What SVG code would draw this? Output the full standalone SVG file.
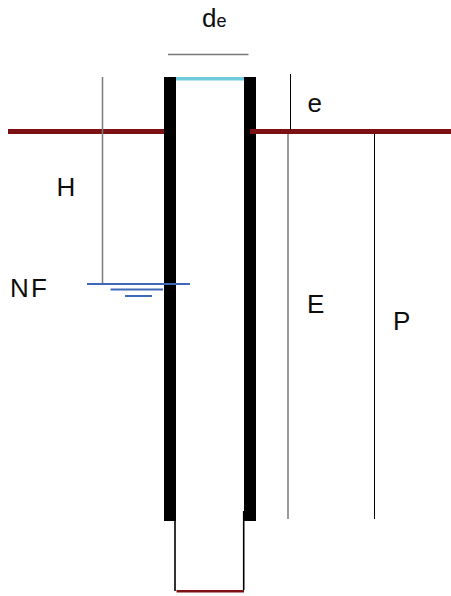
<svg xmlns="http://www.w3.org/2000/svg" width="451" height="596" viewBox="0 0 451 596">
<style>
text{font-family:"Liberation Sans",Arial,sans-serif;font-size:26px;fill:#0d0d0d}
.wall{fill:#000}
.ground{fill:#7b1113}
.thin{stroke:#000;stroke-width:1;fill:none}
.grey{stroke:#7a7a7a;stroke-width:1.500;fill:none}
.water{stroke:#4068b8;stroke-width:1.800;fill:none}
.tube{stroke:#000;stroke-width:1.600;fill:none}
</style>
<rect width="451" height="596" fill="#fff"/>
<g id="well">
<rect class="wall" x="164" y="77" width="12" height="444"/>
<rect class="wall" x="244" y="77" width="12" height="444"/>
<rect x="176" y="77" width="68" height="3.500" fill="#70cbdc"/>
<rect class="ground" x="8" y="129" width="156" height="5"/>
<rect class="ground" x="250" y="129" width="201" height="5"/>
<path class="tube" d="M175 521V591M243.700 511V590"/>
<rect class="ground" x="176.500" y="590" width="67.500" height="2.500"/>
</g>
<g id="connectors">
<path class="grey" d="M168 54.500H248.500"/>
<path class="thin" d="M290.500 74V130"/>
<path class="grey" d="M288 134V519"/>
<path class="thin" d="M374.500 134V519"/>
<path class="grey" d="M102.500 77V283"/>
</g>
<g id="water-level">
<path class="water" d="M87 284H190M110.500 289.500H163M125 296H152"/>
</g>
<g id="labels">
<text x="202" y="27">d<tspan font-size="18">e</tspan></text>
<text x="307.500" y="112">e</text>
<text x="56.500" y="196">H</text>
<text x="10" y="297" textLength="37" lengthAdjust="spacing">NF</text>
<text x="307" y="313">E</text>
<text x="393" y="330">P</text>
</g>
</svg>
